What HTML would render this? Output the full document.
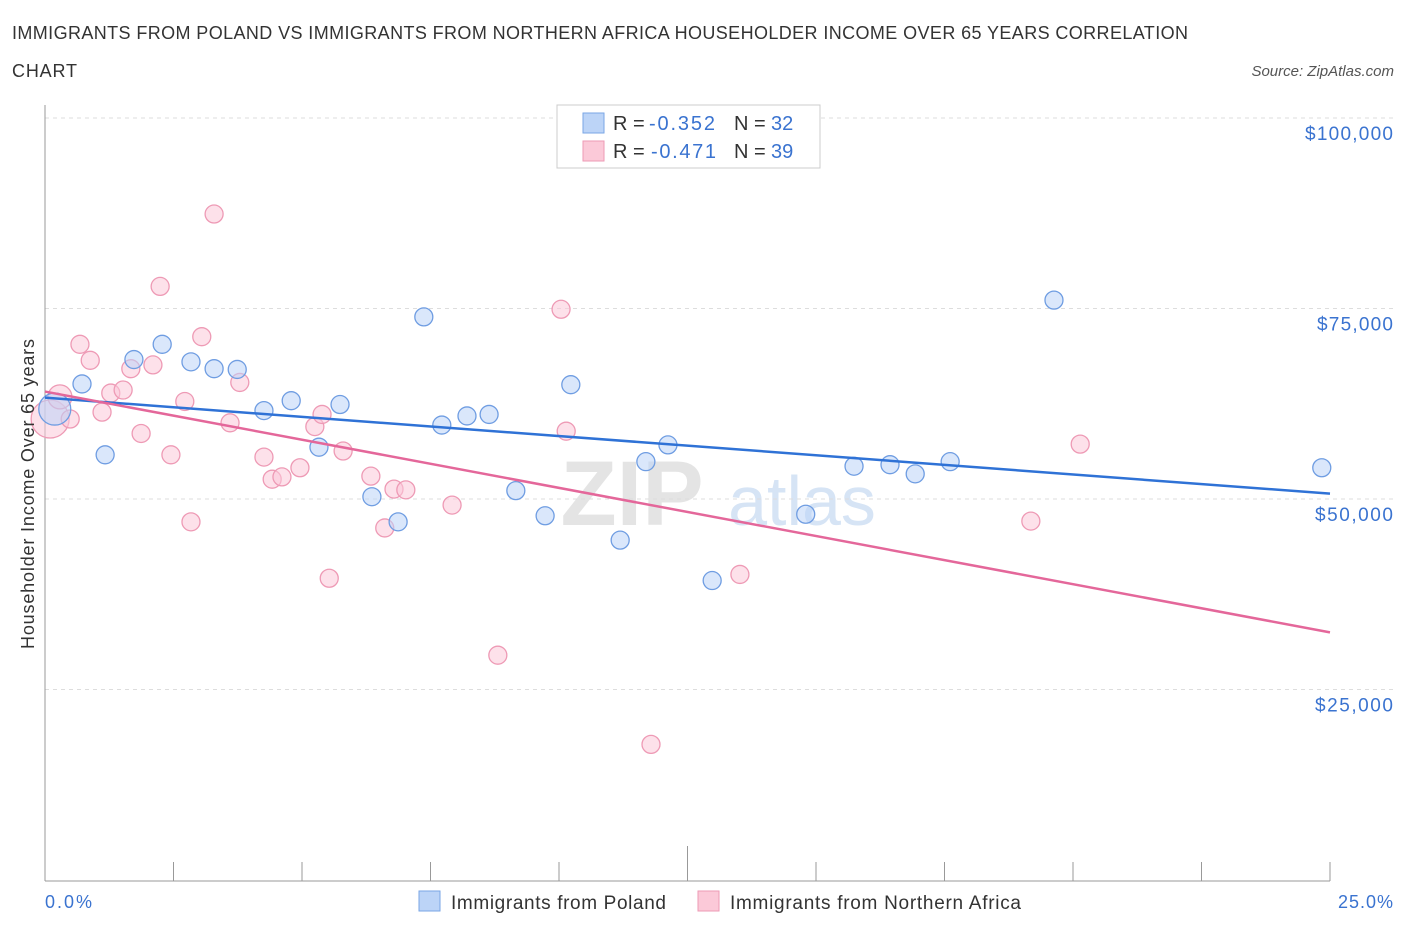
<!DOCTYPE html>
<html><head><meta charset="utf-8"><style>
body{margin:0;background:#fff;font-family:"Liberation Sans",sans-serif;}
svg text{font-family:"Liberation Sans",sans-serif;}
</style></head><body>
<svg id="chart" width="1406" height="930">
<text x="12" y="39" font-size="18" fill="#333" textLength="1176">IMMIGRANTS FROM POLAND VS IMMIGRANTS FROM NORTHERN AFRICA HOUSEHOLDER INCOME OVER 65 YEARS CORRELATION</text>
<text x="12" y="77" font-size="18" fill="#333" textLength="65">CHART</text>
<text x="1394" y="76" font-size="15" fill="#555" font-style="italic" text-anchor="end">Source: ZipAtlas.com</text>
<g>
<text x="632" y="525" font-size="92" fill="#e4e4e4" text-anchor="middle" font-family="Liberation Serif" font-weight="bold">ZIP</text>
<text x="802" y="525" font-size="70" fill="#d6e4f5" text-anchor="middle">atlas</text>
</g>
<g id="grid"></g>
<g id="axes"></g>
<g id="pts"></g>
<g id="trends"></g>
<text transform="translate(34,494) rotate(-90)" font-size="18" fill="#333" text-anchor="middle" textLength="310">Householder Income Over 65 years</text>
<g>
<rect x="557" y="105" width="263" height="63" fill="#fff" stroke="#ccc"/>
<rect x="583" y="113" width="21" height="20" fill="#bcd4f7" stroke="#7aa6e6"/>
<rect x="583" y="141" width="21" height="20" fill="#fbc9d8" stroke="#ee9ab5"/>
<text x="613" y="130" font-size="20" fill="#333">R = </text><text x="649" y="130" font-size="20" fill="#3a73d0" textLength="66">-0.352</text>
<text x="734" y="130" font-size="20" fill="#333">N = </text><text x="771" y="130" font-size="20" fill="#3a73d0">32</text>
<text x="613" y="158" font-size="20" fill="#333">R = </text><text x="651" y="158" font-size="20" fill="#3a73d0" textLength="65">-0.471</text>
<text x="734" y="158" font-size="20" fill="#333">N = </text><text x="771" y="158" font-size="20" fill="#3a73d0">39</text>
</g>
<g>
<rect x="419" y="891" width="21" height="20" fill="#bcd4f7" stroke="#7aa6e6"/>
<text x="451" y="909" font-size="19" fill="#333" textLength="215">Immigrants from Poland</text>
<rect x="698" y="891" width="21" height="20" fill="#fbc9d8" stroke="#ee9ab5"/>
<text x="730" y="909" font-size="19" fill="#333" textLength="291">Immigrants from Northern Africa</text>
</g>
<text x="45" y="908" font-size="18" fill="#3a73d0" textLength="47">0.0%</text>
<text x="1393" y="908" font-size="18" fill="#3a73d0" text-anchor="end" textLength="55">25.0%</text>
</svg>
<script>
const yTicks=[25000,50000,75000,100000];
const yTickLabels=["$25,000","$50,000","$75,000","$100,000"];
const yTickLens=[78,78,76,88];
const xTicks=[0,2.5,5,7.5,10,12.5,15,17.5,20,22.5,25];
const polandX=[0.72,1.17,1.73,2.28,2.84,3.29,3.74,4.26,4.79,5.33,5.74,6.36,6.87,7.37,7.72,8.21,8.64,9.16,9.73,10.23,11.19,11.69,12.12,12.98,14.80,15.74,16.44,16.93,17.61,19.63,24.84,0.19];
const polandY=[65100,55800,68300,70300,68000,67100,67000,61600,62900,56800,62400,50300,47000,73900,59700,60900,61100,51100,47800,65000,44600,54900,57100,39300,48000,54300,54500,53300,54900,76100,54100,61800];
const polandR=[9,9,9,9,9,9,9,9,9,9,9,9,9,9,9,9,9,9,9,9,9,9,9,9,9,9,9,9,9,9,9,16];
const africaX=[0.10,0.29,0.49,0.68,0.88,1.11,1.28,1.52,1.67,1.87,2.10,2.24,2.45,2.72,2.84,3.05,3.29,3.60,3.79,4.26,4.42,4.61,4.96,5.25,5.39,5.53,5.80,6.34,6.61,6.79,7.02,7.92,8.81,10.04,10.14,11.79,13.52,19.18,20.14];
const africaY=[60500,63400,60500,70300,68200,61400,63900,64300,67100,58600,67600,77900,55800,62800,47000,71300,87400,60000,65300,55500,52600,52900,54100,59500,61100,39600,56300,53000,46200,51300,51200,49200,29500,74900,58900,17800,40100,47100,57200];
const africaR=[19,12,9,9,9,9,9,9,9,9,9,9,9,9,9,9,9,9,9,9,9,9,9,9,9,9,9,9,9,9,9,9,9,9,9,9,9,9,9];
const polandTrend=[[0,63300],[25,50700]];
const africaTrend=[[0,64100],[25,32500]];
const NS="http://www.w3.org/2000/svg";
const X=v=>45+v/25*1285;
const Y=v=>880-v/25000*190.5;
function mk(t,p,a){const e=document.createElementNS(NS,t);for(const k in a)e.setAttribute(k,a[k]);p.appendChild(e);return e;}
const grid=document.getElementById('grid'),axes=document.getElementById('axes'),pts=document.getElementById('pts'),tr=document.getElementById('trends');
yTicks.forEach((t,i)=>{
 const l=mk('line',grid,{x1:45,x2:1394,y1:Y(t),y2:Y(t),stroke:'#ddd','stroke-dasharray':'4,4'});
 
 
 const tx=mk('text',grid,{x:1393,y:Y(t)+22,'font-size':19,fill:'#3a73d0','text-anchor':'end',textLength:yTickLens[i]});
 tx.textContent=yTickLabels[i];
 
 
});
const ya=mk('line',axes,{x1:45,x2:45,y1:105,y2:881,stroke:'#999'});


const xa=mk('line',axes,{x1:45,x2:1330,y1:881,y2:881,stroke:'#999'});


xTicks.forEach((t,i)=>{
 const tk=mk('line',axes,{x1:X(t),x2:X(t),y1:i==5?846:862,y2:881,stroke:'#999'});
 
 
});
function series(xs,ys,rs,fill,stroke,name){
 xs.forEach((x,i)=>{
  const c=mk('circle',pts,{cx:X(x),cy:Y(ys[i]),r:rs[i],fill:fill,'fill-opacity':0.55,stroke:stroke,'stroke-width':1.3});
  
  
 });
}
series(africaX,africaY,africaR,'#fbc9d8','#ee9ab5','point-northern-africa');
series(polandX,polandY,polandR,'#bcd4f7','#6f9de2','point-poland');
const l1=mk('line',tr,{x1:X(polandTrend[0][0]),y1:Y(polandTrend[0][1]),x2:X(polandTrend[1][0]),y2:Y(polandTrend[1][1]),stroke:'#2f72d6','stroke-width':2.5});


const l2=mk('line',tr,{x1:X(africaTrend[0][0]),y1:Y(africaTrend[0][1]),x2:X(africaTrend[1][0]),y2:Y(africaTrend[1][1]),stroke:'#e4679a','stroke-width':2.5});


</script>
</body></html>
